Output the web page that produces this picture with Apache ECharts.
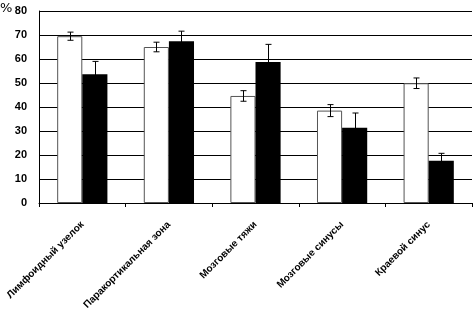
<!DOCTYPE html>
<html>
<head>
<meta charset="utf-8">
<script src="https://cdn.jsdelivr.net/npm/echarts@6/dist/echarts.min.js"></script>
<style>
  html, body { margin: 0; padding: 0; background: #fff; }
  #chart { width: 473px; height: 321px; }
</style>
</head>
<body>
<div id="chart"></div>
<script>
const categories = [
  "Лимфоидный узелок",
  "Паракортикальная зона",
  "Мозговые тяжи",
  "Мозговые синусы",
  "Краевой синус",
];
const whiteValues = [69.5, 65.0, 44.6, 38.5, 49.9];
const whiteErrors = [1.7, 2.0, 2.2, 2.5, 2.2];
const blackValues = [53.6, 67.4, 58.7, 31.4, 17.6];
const blackErrors = [5.4, 4.2, 7.4, 6.1, 3.1];

const BAR_RATIO = 0.29; // bar width as share of category band

let chart = echarts.init(document.getElementById("chart"));

// error bar drawn as custom series, shifted left or right by half a bar
function errorSeries(values, errors, side, color) {
  return {
    type: "custom",
    z: 5,
    silent: true,
    data: values.map((v, i) => [i, v, errors[i]]),
    renderItem: function (params, api) {
      let band = api.size([1, 0])[0];
      let barW = band * BAR_RATIO;
      let top = api.coord([api.value(0), api.value(1) + api.value(2)]);
      let bot = api.coord([api.value(0), api.value(1) - api.value(2)]);
      let x = Math.round(top[0] + side * barW / 2) + 0.5;
      let cap = 3;
      let style = { stroke: color, lineWidth: 1 };
      return {
        type: "group",
        children: [
          { type: "line", shape: { x1: x, y1: top[1], x2: x, y2: bot[1] }, style: style },
          { type: "line", shape: { x1: x - cap, y1: top[1], x2: x + cap, y2: top[1] }, style: style },
          { type: "line", shape: { x1: x - cap, y1: bot[1], x2: x + cap, y2: bot[1] }, style: style },
        ],
      };
    },
  };
}

chart.setOption({
  animation: false,
  grid: {
    left: 39,
    right: 1,
    top: 11,
    bottom: 118,
  },
  graphic: [
    {
      type: "text",
      left: 0,
      top: 2,
      style: {
        text: "%",
        font: "13px 'DejaVu Sans'",
        fill: "#000",
      },
    },
  ],
  xAxis: {
    type: "category",
    data: categories,
    axisLine: { lineStyle: { color: "#000", width: 1 } },
    axisTick: { show: true, length: 4, lineStyle: { color: "#000" } },
    axisLabel: {
      rotate: 45,
      interval: 0,
      margin: 20,
      color: "#000",
      fontFamily: "Liberation Sans",
      fontWeight: "bold",
      fontSize: 10,
    },
  },
  yAxis: {
    type: "value",
    min: 0,
    max: 80,
    interval: 10,
    axisLine: { show: true, lineStyle: { color: "#000", width: 1 } },
    axisTick: { show: false },
    axisLabel: {
      color: "#000",
      fontFamily: "Liberation Sans",
      fontWeight: "bold",
      fontSize: 11,
      margin: 12,
    },
    splitLine: { lineStyle: { color: "#000", width: 1 } },
  },
  series: [
    {
      type: "bar",
      data: whiteValues,
      barWidth: BAR_RATIO * 100 + "%",
      barGap: "0%",
      z: 3,
      itemStyle: { color: "#fff", borderColor: "#555", borderWidth: 1 },
    },
    {
      type: "bar",
      data: blackValues,
      barWidth: BAR_RATIO * 100 + "%",
      barGap: "0%",
      z: 3,
      itemStyle: { color: "#000" },
    },
    errorSeries(whiteValues, whiteErrors, -1, "#000"),
    errorSeries(blackValues, blackErrors, 1, "#000"),
  ],
});
</script>
</body>
</html>
